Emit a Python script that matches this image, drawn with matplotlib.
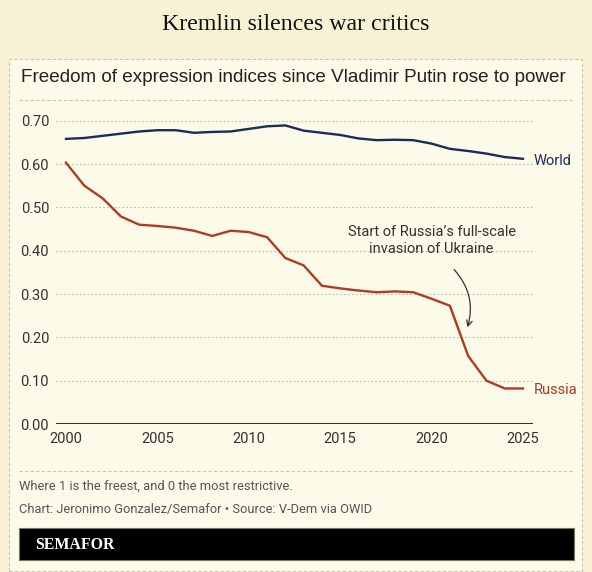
import matplotlib
matplotlib.use("Agg")
import matplotlib.pyplot as plt
from matplotlib.patches import Rectangle
from matplotlib.lines import Line2D

# freedom of expression index
years = list(range(2000, 2026))
world = [0.658, 0.660, 0.665, 0.670, 0.675, 0.678, 0.678, 0.672, 0.674, 0.675,
         0.681, 0.687, 0.689, 0.677, 0.672, 0.667, 0.659, 0.655, 0.656, 0.655,
         0.647, 0.635, 0.630, 0.624, 0.616, 0.612]
russia = [0.603, 0.550, 0.521, 0.479, 0.460, 0.457, 0.453, 0.446, 0.434, 0.446,
          0.443, 0.431, 0.383, 0.366, 0.319, 0.313, 0.308, 0.304, 0.306, 0.304,
          0.289, 0.273, 0.157, 0.100, 0.082, 0.082]
yticks = [0.0, 0.1, 0.2, 0.3, 0.4, 0.5, 0.6, 0.7]
xticks = [2000, 2005, 2010, 2015, 2020, 2025]

W, H = 592, 572
outer_bg = '#f7f2d5'
panel_bg = '#fcfae8'
navy = '#1f2a5c'
red = '#b03a24'
txt = '#333333'
body_font = ['Roboto', 'DejaVu Sans']

fig = plt.figure(figsize=(W / 100, H / 100), dpi=100)
fig.patch.set_facecolor(outer_bg)

def fx(px):
    return px / W

def fy(py):
    return 1 - py / H

# panel with dashed border (kept below the axes)
fig.patches.append(Rectangle((fx(9), fy(571)), fx(582 - 9), (571 - 59) / H,
                             transform=fig.transFigure, facecolor=panel_bg,
                             edgecolor='#c8c6b4', linestyle=(0, (3, 2)), linewidth=0.8,
                             zorder=-10))

# dashed separators
for py in (100, 471):
    fig.lines.append(Line2D([fx(19), fx(574)], [fy(py), fy(py)], transform=fig.transFigure,
                            color='#c8c6b4', linestyle=(0, (3, 2)), linewidth=0.8))

fig.text(0.5, fy(24), 'Kremlin silences war critics', ha='center', va='center',
         fontsize=17.2, family='Liberation Serif', color='#111111')
fig.text(fx(21), fy(78), 'Freedom of expression indices since Vladimir Putin rose to power',
         ha='left', va='center', fontsize=13.6, family='Liberation Sans', color='#222222')

# main axes
ax = fig.add_axes([fx(56), fy(424), fx(533 - 56), (424 - 112) / H])
ax.set_zorder(5)
ax.set_facecolor('none')
ax.set_xlim(2000 - 10 / 18.28, 2025 + 10 / 18.28)
ax.set_ylim(0, 0.72)

for v in yticks[1:]:
    ax.axhline(v, color='#bdbcaa', linestyle=(0, (1.5, 2)), linewidth=0.8, zorder=1)
ax.axhline(0, color='#333333', linewidth=1.5, zorder=2)

ax.plot(years, world, color=navy, linewidth=1.7, zorder=3)
ax.plot(years, russia, color=red, linewidth=1.7, zorder=3)

for s in ax.spines.values():
    s.set_visible(False)
ax.set_yticks(yticks)
ax.set_yticklabels(['%.2f' % v for v in yticks])
ax.set_xticks(xticks)
ax.tick_params(length=0, labelsize=10.5, labelcolor=txt)
ax.tick_params(axis='y', pad=5)
ax.tick_params(axis='x', pad=6)
for lab in ax.get_xticklabels() + ax.get_yticklabels():
    lab.set_family(body_font)

ax.text(years[-1] + 0.6, world[-1] - 0.004, 'World', color=navy, fontsize=10.5,
        family=body_font, ha='left', va='center', clip_on=False)
ax.text(years[-1] + 0.6, russia[-1] - 0.004, 'Russia', color=red, fontsize=10.5,
        family=body_font, ha='left', va='center', clip_on=False)

ax.text(2020.0, 0.423, "Start of Russia\u2019s full-scale\ninvasion of Ukraine",
        ha='center', va='center', fontsize=10.5, family=body_font, color=txt,
        linespacing=1.3)
ax.annotate('', xy=(2021.92, 0.217), xytext=(2021.13, 0.361),
            arrowprops=dict(arrowstyle='->', color='#333333', lw=0.9,
                            connectionstyle='arc3,rad=-0.3'))

# footer
fig.text(fx(19), fy(486), 'Where 1 is the freest, and 0 the most restrictive.',
         ha='left', va='center', fontsize=9.25, family=body_font, color='#555555')
fig.text(fx(19), fy(510), 'Chart: Jeronimo Gonzalez/Semafor \u2022 Source: V-Dem via OWID',
         ha='left', va='center', fontsize=9.25, family=body_font, color='#555555')

fig.patches.append(Rectangle((fx(19), fy(560)), fx(574 - 19), (560 - 528) / H,
                             transform=fig.transFigure, facecolor='#000000',
                             edgecolor='#777766', linewidth=0.8))
fig.text(fx(35), fy(545), 'SEMAFOR', ha='left', va='center', fontsize=11.4,
         family='Liberation Serif', weight='bold', color='white')

fig.savefig('out.png', dpi=100, facecolor=fig.get_facecolor())
